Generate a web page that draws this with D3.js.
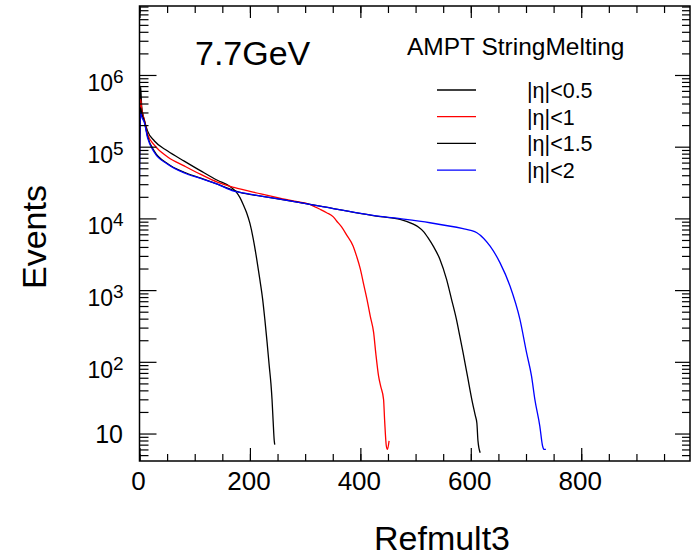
<!DOCTYPE html>
<html lang="en">
<head>
	<meta charset="utf-8">
	<script src="https://cdn.jsdelivr.net/npm/d3@7"></script>
	<title>Refmult3 7.7GeV</title>
	<style>
		body { margin: 0; background: #fff; }
		text { font-family: "Liberation Sans", Arial, sans-serif; fill: #000; }
	</style>
</head>
<body>
<svg width="692" height="556"></svg>
<script>
// Refmult3 distributions, [refmult3, events]
var eta05 = [[0,1.5e5],[1,4e5],[2,7e5],[4,3.6e5],[8.5,2.4e5],[14.5,1.66e5],[27,1.2e5],[51,8.7e4],[81,6.3e4],[111,4.6e4],[141,3.4e4],[165,2.75e4],[175,2.35e4],[182,1.95e4],[188,1.55e4],[194,1.2e4],[200,8.5e3],[206,5.2e3],[212,2.8e3],[218,1.4e3],[223,750],[227,390],[231,190],[235,87],[238,50],[240,30],[242,15],[244,8],[245,7]];
var eta10 = [[0,8e4],[1,3e5],[2,4.6e5],[4,3.3e5],[8.5,2.4e5],[14.5,1.5e5],[27,1.05e5],[51,7.2e4],[81,5.4e4],[111,4.1e4],[141,3.2e4],[171,2.7e4],[220,2.2e4],[250,1.95e4],[291,1.68e4],[305,1.6e4],[327,1.34e4],[339,1.2e4],[351,1.05e4],[357,9.2e3],[366,7.6e3],[375,5.9e3],[387,4.1e3],[393,3e3],[400,1.96e3],[406,1.2e3],[412,740],[418,430],[424,257],[428,130],[433,63],[437,45],[442,30],[444,15],[447,6.7],[449,6],[452,7.9]];
var eta15 = [[0,6e4],[1,2.5e5],[2,3.5e5],[4,2.9e5],[8.5,2.3e5],[14.5,1.4e5],[27,8.6e4],[51,5.8e4],[81,4.4e4],[111,3.65e4],[141,3.0e4],[171,2.45e4],[182,2.3e4],[220,2.05e4],[291,1.66e4],[327,1.48e4],[436,1.06e4],[472,9.7e3],[496,8.3e3],[505,7.6e3],[514,6.6e3],[523,5.3e3],[532,4.1e3],[544,2.7e3],[556,1.42e3],[565,750],[574,390],[580,230],[586,134],[594,63],[603,27],[608,18],[611,14],[613,7.9],[617,5.4]];
var eta20 = [[0,3.5e4],[1,2e5],[2,3e5],[4,2.6e5],[8.5,2.2e5],[14.5,1.34e5],[27,8.3e4],[51,5.7e4],[81,4.3e4],[111,3.6e4],[141,3.0e4],[171,2.4e4],[182,2.3e4],[220,2.05e4],[291,1.66e4],[327,1.48e4],[436,1.07e4],[472,9.9e3],[526,8.7e3],[586,7.2e3],[600,6.8e3],[611,6.3e3],[623,5.3e3],[635,4.1e3],[653,2.4e3],[671,1.14e3],[689,390],[701,134],[710,63],[716,30],[725,12.7],[730,6.7],[733,6],[736,6]];

var seriesNames = ["|η|<0.5", "|η|<1", "|η|<1.5", "|η|<2"];
var xTicks = [0, 200, 400, 600, 800];
var xMinor = d3.range(0, 1000, 50);
var yExp = [1, 2, 3, 4, 5, 6];

var colors = ["#000", "#ff0000", "#000", "#0000ff"];
var series = [eta05, eta10, eta15, eta20];

var svg = d3.select("svg");
var L = 139.5, R = 690, T = 6, B = 461;

var x = d3.scaleLinear().domain([0, 997]).range([L, R]);
var y = d3.scaleLog().domain([4.14, 9.16e6]).range([B, T]);

// minor log ticks 2..9 per decade, inside the domain
var yMinor = [];
yExp.concat([0]).forEach(function(e) {
	for (var k = 2; k <= 9; k++) {
		var v = k * Math.pow(10, e);
		if (v >= y.domain()[0] && v <= y.domain()[1]) yMinor.push(v);
	}
});
var yMajor = yExp.map(function(e) { return Math.pow(10, e); });

// curves
svg.append("clipPath").attr("id", "clip")
	.append("rect").attr("x", L).attr("y", T).attr("width", R - L).attr("height", B - T);

var line = d3.line()
	.x(function(d) { return x(d[0]); })
	.y(function(d) { return y(d[1]); })
	.curve(d3.curveMonotoneX);

svg.append("g").attr("clip-path", "url(#clip)")
	.selectAll("path")
	.data(series)
	.enter()
	.append("path")
	.attr("d", line)
	.attr("fill", "none")
	.attr("stroke", function(d, i) { return colors[i]; })
	.attr("stroke-width", 1.3);

// axes, ticks pointing inward
function tickAxis(axis, pos, vals, size) {
	var g = svg.append("g").attr("transform", pos)
		.call(axis.tickValues(vals).tickSize(size).tickSizeOuter(0).tickFormat(""));
	g.select(".domain").remove();
	g.selectAll("line").attr("stroke", "#000").attr("stroke-width", 1.2);
}
tickAxis(d3.axisBottom(x), "translate(0," + B + ")", xTicks, -13);
tickAxis(d3.axisBottom(x), "translate(0," + B + ")", xMinor, -7);
tickAxis(d3.axisTop(x), "translate(0," + T + ")", xTicks, -12);
tickAxis(d3.axisTop(x), "translate(0," + T + ")", xMinor, -7);
tickAxis(d3.axisLeft(y), "translate(" + L + ",0)", yMajor, -17);
tickAxis(d3.axisLeft(y), "translate(" + L + ",0)", yMinor, -9);
tickAxis(d3.axisRight(y), "translate(" + R + ",0)", yMajor, -15);
tickAxis(d3.axisRight(y), "translate(" + R + ",0)", yMinor, -8);

svg.append("rect")
	.attr("x", L).attr("y", T).attr("width", R - L).attr("height", B - T)
	.attr("fill", "none").attr("stroke", "#000").attr("stroke-width", 1.5);

// x tick labels
svg.append("g").selectAll("text")
	.data(xTicks)
	.enter()
	.append("text")
	.attr("x", function(d) { return x(d) - 1; })
	.attr("y", 490)
	.attr("text-anchor", "middle")
	.style("font-size", "26px")
	.text(function(d) { return d; });

// y tick labels: 10, 10^2 ... 10^6
yExp.forEach(function(e) {
	var py = y(Math.pow(10, e));
	if (e == 1) {
		svg.append("text").attr("x", 123).attr("y", py + 9)
			.attr("text-anchor", "end").style("font-size", "25px").text("10");
	} else {
		svg.append("text").attr("x", 113).attr("y", py + 16)
			.attr("text-anchor", "end").style("font-size", "23px").text("10");
		svg.append("text").attr("x", 113).attr("y", py + 8)
			.style("font-size", "19px").text(e);
	}
});

// titles
svg.append("text")
	.attr("transform", "translate(46,237) rotate(-90)")
	.attr("text-anchor", "middle")
	.style("font-size", "34px")
	.text("Events");
svg.append("text")
	.attr("x", 442).attr("y", 550)
	.attr("text-anchor", "middle")
	.style("font-size", "34px")
	.text("Refmult3");
svg.append("text")
	.attr("x", 195).attr("y", 65)
	.style("font-size", "34px")
	.text("7.7GeV");
svg.append("text")
	.attr("x", 407).attr("y", 55)
	.style("font-size", "24.5px")
	.text("AMPT StringMelting");

// legend
var legend = svg.append("g").selectAll("g")
	.data(seriesNames)
	.enter()
	.append("g")
	.attr("transform", function(d, i) { return "translate(0," + (90 + i * 26.7) + ")"; });
legend.append("line")
	.attr("x1", 437).attr("x2", 476)
	.attr("stroke", function(d, i) { return colors[i]; })
	.attr("stroke-width", 1.3);
legend.append("text")
	.attr("x", 527).attr("y", 8)
	.style("font-size", "21.5px")
	.text(function(d) { return d; });
</script>
</body>
</html>
